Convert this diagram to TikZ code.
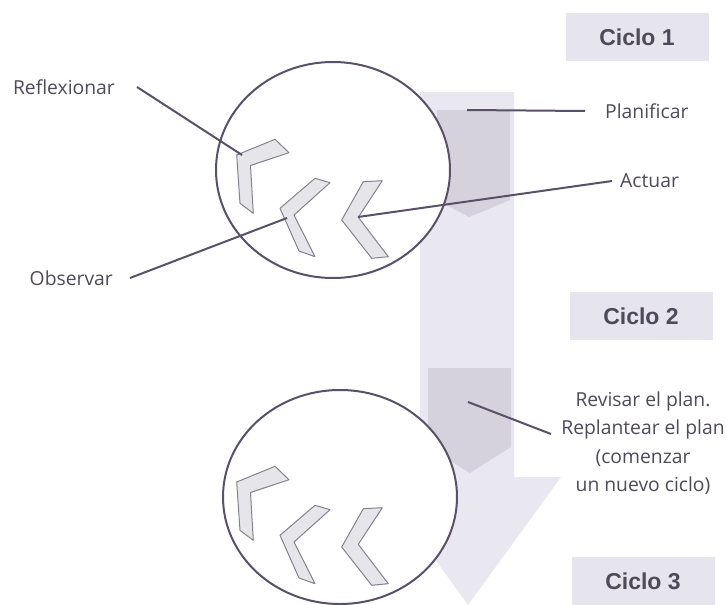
\documentclass[tikz,border=0pt]{standalone}
\usepackage{fontspec}
\usetikzlibrary{shapes.geometric}
\setmainfont{Open Sans}
\newfontfamily\ciclofont{Liberation Sans}
\definecolor{linec}{HTML}{5A5169}
\definecolor{textc}{HTML}{4F4A5A}
\definecolor{arrowlight}{HTML}{E9E7EF}
\definecolor{arrowdark}{HTML}{D5D2DE}
\definecolor{chevfill}{HTML}{E6E6EA}
\definecolor{chevline}{HTML}{85828F}
\definecolor{boxc}{HTML}{E6E4EC}
\begin{document}
\begin{tikzpicture}[x=1pt,y=-1pt,
  lbl/.style={text=textc,font=\fontsize{19.3}{28.5}\selectfont,inner sep=0pt},
  ciclo/.style={fill=boxc,text=textc,font=\ciclofont\bfseries\fontsize{23}{26}\selectfont,minimum width=143pt,minimum height=48pt,inner sep=0pt},
  conn/.style={draw=linec,line width=2pt},
  ring/.style={draw=linec,line width=2pt,fill=white},
  chev/.style={draw=chevline,line width=1pt,fill=chevfill,line join=round}]
\useasboundingbox (0,0) rectangle (726,605);
\fill[white] (0,0) rectangle (726,605);
% big light arrow
\fill[arrowlight] (420,92) -- (514,92) -- (514,477) -- (561,477) -- (468,605) -- (376,477) -- (420,477) -- cycle;
% dark inner arrows
\fill[arrowdark] (437,110) -- (510,110) -- (510,200) -- (469,217) -- (437,200) -- cycle;
\fill[arrowdark] (428,368) -- (511,368) -- (511,447) -- (470,473) -- (428,447) -- cycle;
% circles
\node[ring,ellipse,minimum width=234pt,minimum height=216pt,inner sep=0pt] (c1) at (333,170) {};
\node[ring,ellipse,minimum width=234pt,minimum height=214pt,inner sep=0pt] (c2) at (340,497) {};
% chevrons
\foreach \dy in {0,327}{
\begin{scope}[yshift=-\dy pt]
\draw[chev] (236.7,155) -- (275,139.3) -- (289,152.7) -- (250.5,165.5) -- (253.3,213.3) -- (240,203.3) -- cycle;
\draw[chev] (280,208.3) -- (315,178.3) -- (330,182.7) -- (294,215) -- (315,256.7) -- (299,251) -- cycle;
\draw[chev] (341.7,220) -- (363.3,181.7) -- (382.3,180.7) -- (358.3,217.3) -- (388.3,256.7) -- (371.7,258.3) -- cycle;
\end{scope}}
% connector anchors
\coordinate (pRefl) at (242,155);
\coordinate (pObs) at (287,218);
\coordinate (pAct) at (358,217);
\coordinate (pPlan) at (467,110);
\coordinate (pRev) at (468,402);
% labels
\node[lbl,anchor=east] (refl) at (115,87) {Reflexionar};
\node[lbl,anchor=east] (obs) at (113,278) {Observar};
\node[lbl,anchor=west] (plan) at (605,111) {Planificar};
\node[lbl,anchor=west] (act) at (620,181) {Actuar};
\node[lbl,align=center] (rev) at (643,443) {Revisar el plan.\\Replantear el plan\\(comenzar\\un nuevo ciclo)};
\node[ciclo] (k1) at (637,37) {Ciclo 1};
\node[ciclo] (k2) at (641,316) {Ciclo 2};
\node[ciclo] (k3) at (643,581) {Ciclo 3};
% connectors
\draw[conn] (refl.east) ++(22,0) coordinate (r0) -- (pRefl);
\draw[conn] (obs.east) ++(17,0) coordinate (o0) -- (pObs);
\draw[conn] (pPlan) -- ([xshift=-20pt]plan.west);
\draw[conn] (pAct) -- ([xshift=-8pt]act.west);
\draw[conn] (pRev) -- (551,434) coordinate (rv1);
\end{tikzpicture}
\end{document}
